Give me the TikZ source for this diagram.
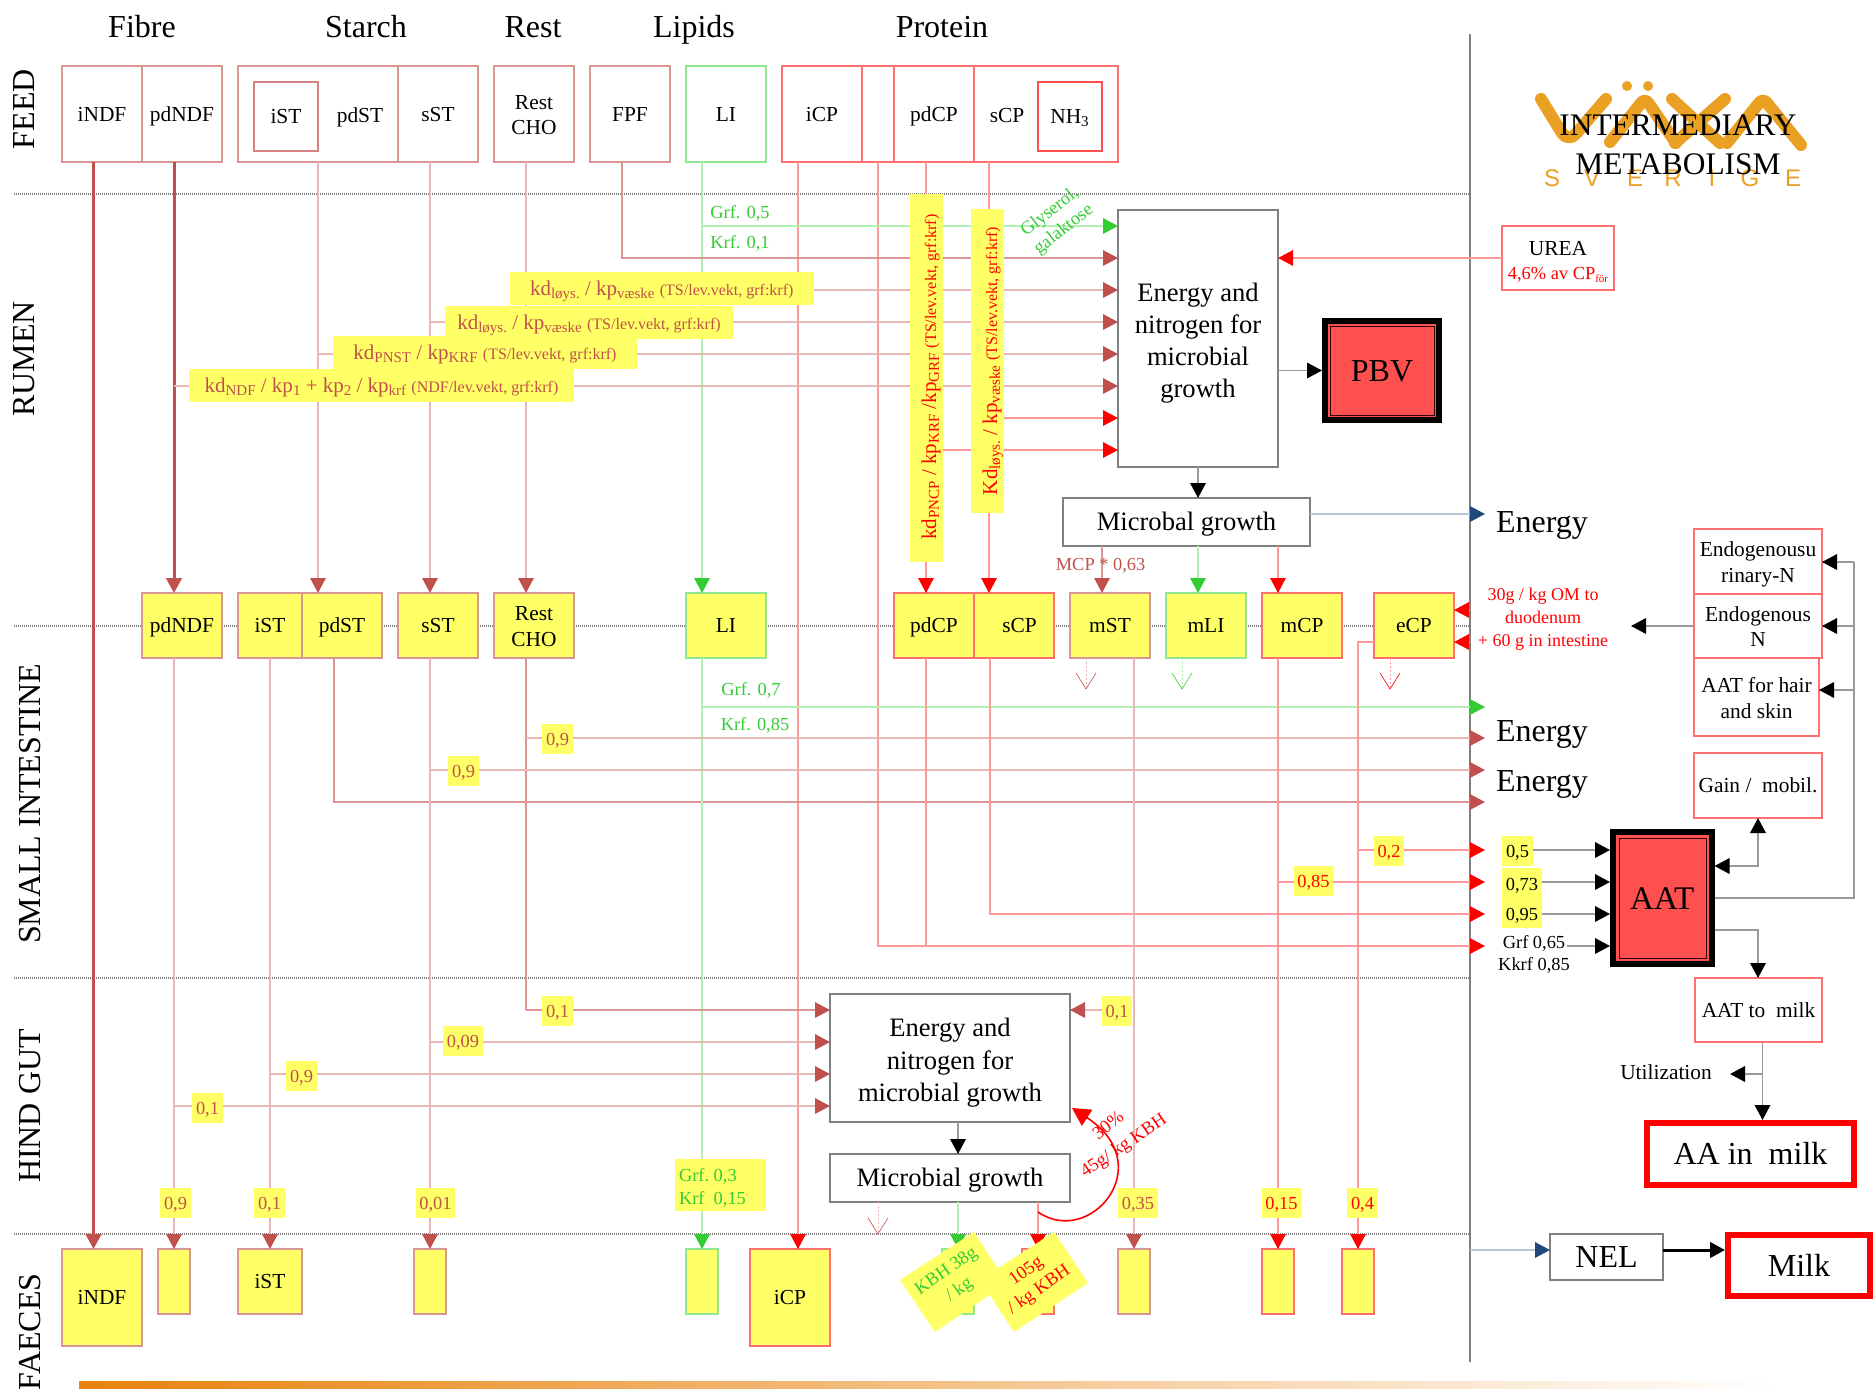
\documentclass[tikz,border=0pt]{standalone}
\usepackage{fontspec}
\setmainfont{Liberation Serif}
\newfontfamily\logofont{Liberation Sans}
\usetikzlibrary{arrows.meta,calc,shadings}
\definecolor{dred}{HTML}{C0504D}
\definecolor{pink}{HTML}{E6B9B8}
\definecolor{dbrd}{HTML}{D99694}
\definecolor{rline}{HTML}{FF9999}
\definecolor{rbrd}{HTML}{FF7070}
\definecolor{gline}{HTML}{B3EFB3}
\definecolor{gc}{HTML}{33CC33}
\definecolor{gbrd}{HTML}{8FE68F}
\definecolor{yel}{HTML}{FFFF66}
\definecolor{bl}{HTML}{1F497D}
\definecolor{bline}{HTML}{B8C7DB}
\definecolor{redf}{HTML}{FF5050}
\definecolor{org}{HTML}{E9A023}
\definecolor{barl}{HTML}{E8820C}
\definecolor{barm}{HTML}{F9B76C}
\newcommand\bx[7]{%
  \pgfmathsetmacro\bxw{(#4-#2)*0.5}\pgfmathsetmacro\bxh{(#5-#3)*0.5}%
  \pgfmathsetmacro\bxx{(#2+#4)/2}\pgfmathsetmacro\bxy{(#3+#5)/2}%
  \node[minimum width=\bxw pt,minimum height=\bxh pt,inner sep=0pt,outer sep=0pt,#6] (#1) at (\bxx,\bxy) {#7};}
\newcommand\sbt[1]{\raisebox{-0.3ex}{\fontsize{7.5}{9}\selectfont #1}}
\newcommand\tsn[1]{{\fontsize{8}{9}\selectfont #1}}
\newcommand\tp[1]{\rule{0pt}{#1pt}}
\tikzset{
 cap/.style={text height=#1,text depth=0pt},
 ml/.style={text height=,text depth=},
 f32/.style={font=\fontsize{16}{19}\selectfont,cap=10.6pt},
 f26/.style={font=\fontsize{13.3}{16.1}\selectfont,align=center,cap=8.8pt},
 f21/.style={font=\fontsize{10.7}{12.7}\selectfont,align=center,cap=7.1pt},
 f18/.style={font=\fontsize{9.2}{11.2}\selectfont,align=center,cap=6.1pt},
 lab/.style={inner sep=0pt,outer sep=0pt,text=black},
 fdr/.style={draw=dbrd,line width=1pt,fill=white,f21},
 frd/.style={draw=rbrd,line width=1pt,fill=white,f21},
 fgr/.style={draw=gbrd,line width=1pt,fill=white,f21},
 ydr/.style={draw=dbrd,line width=1pt,fill=yel,f21},
 yrd/.style={draw=rbrd,line width=1pt,fill=yel,f21},
 ygr/.style={draw=gbrd,line width=1pt,fill=yel,f21},
 gbox/.style={draw=gray,line width=1pt,fill=white,f26},
 blkbox/.style={draw=black,line width=3pt,fill=redf},
 rbig/.style={draw=red,line width=3pt,fill=white,f32},
 ylab/.style={fill=yel,f18,text=dred},
 ylabr/.style={fill=yel,f18,text=red},
 sep/.style={draw=gray,line width=1pt,dash pattern=on .5pt off .5pt},
 ar/.style={-{Triangle[length=7.5pt,width=7.75pt,color=#1]}},
 lp/.style={draw=pink,line width=.8pt},
 ld/.style={draw=dred,line width=1.5pt},
 lm/.style={draw=dbrd,line width=.7pt},
 lr/.style={draw=rline,line width=.75pt},
 lg/.style={draw=gline,line width=.8pt},
 lk/.style={draw=gray!80,line width=.9pt},
 lb/.style={draw=bline,line width=.8pt},
 vee/.style={line width=.3pt},
}
\begin{document}
\begin{tikzpicture}[x=0.5pt,y=-0.5pt]
\useasboundingbox (0,0) rectangle (1874,1397);
% separators
\coordinate (Tip) at (1485,0);
\coordinate (Vl) at (1470,0);
\draw[sep] (14,194) -- (1470,194);
\draw[sep] (14,626) -- (1470,626);
\draw[sep] (14,978) -- (1470,978);
\draw[sep] (14,1234) -- (1470,1234);
\draw[draw=gray,line width=1pt] (1470,34) -- (1470,1362);
% bottom bar
\shade[left color=barl,middle color=barm,right color=white] (79,1381) rectangle (1778,1388);
% logo
\begin{scope}[draw=org,line width=6pt,line cap=round,line join=round]
 \draw[rounded corners=6pt] (1541,99) -- (1568,143) -- (1606,99);
 \draw[rounded corners=3pt] (1610,142) -- (1645,98) -- (1676,143);
 \draw (1672,99) -- (1720,143);
 \draw (1725,99) -- (1675,143);
 \draw[rounded corners=3pt] (1727,143) -- (1763,98) -- (1801,145);
\end{scope}
\fill[org] (1627,86) circle (5) (1648,86) circle (5);
\foreach \nn/\lx/\lt in {a/1552/S,b/1592/V,c/1635/E,d/1673/R,e/1712/I,f/1750/G,g/1793/E}{
 \node[lab,text=org,font=\logofont\fontsize{12}{15}\selectfont] (sv\nn) at (\lx,178) {\lt};}
\node[lab,font=\fontsize{15.7}{19}\selectfont] (imA) at (1678,125) {INTERMEDIARY};
\node[lab,font=\fontsize{15.7}{19}\selectfont] (imB) at (1678,164) {METABOLISM};
% headers
\node[lab,f32] (hFibre) at (142,27) {Fibre};
\node[lab,f32] (hStarch) at (366,27) {Starch};
\node[lab,f32] (hRest) at (533,27) {Rest};
\node[lab,f32] (hLip) at (694,27) {Lipids};
\node[lab,f32] (hProt) at (942,27) {Protein};
\node[lab,f32,rotate=90] (rFeed) at (24,109) {FEED};
\node[lab,f32,rotate=90] (rRum) at (24,359) {RUMEN};
\node[lab,f32,rotate=90] (rSI) at (30,804) {SMALL INTESTINE};
\node[lab,f32,rotate=90] (rHG) at (30,1106) {HIND GUT};
\node[lab,f32,rotate=90] (rFa) at (30,1332) {FAECES};
% feed boxes
\bx{FiNDF}{62}{66}{142}{162}{fdr}{iNDF}
\bx{FpdNDF}{142}{66}{222}{162}{fdr}{pdNDF}
\bx{Fstarch}{238}{66}{398}{162}{fdr}{}
\bx{FsST}{398}{66}{478}{162}{fdr}{sST}
\bx{FiST}{254}{82}{318}{151}{draw=dred!70,line width=.8pt,fill=white,f21}{iST}
\node[lab,f21] (FpdSTt) at (360,115) {pdST};
\bx{Frest}{494}{66}{574}{162}{fdr,ml}{\tp{8.2}Rest\\CHO}
\bx{FFPF}{590}{66}{670}{162}{fdr}{FPF}
\bx{FLI}{686}{66}{766}{162}{fgr}{LI}
\bx{FiCP}{782}{66}{862}{162}{frd}{iCP}
\bx{Fx}{862}{66}{894}{162}{frd}{}
\bx{FpdCP}{894}{66}{974}{162}{frd}{pdCP}
\bx{FsCP}{974}{66}{1118}{162}{frd}{}
\node[lab,f21] (FsCPt) at (1007,115) {sCP};
\bx{FNH}{1038}{82}{1102}{151}{draw=rbrd!70!red,line width=.8pt,fill=white,f21}{NH\textsubscript{3}}
% rumen boxes
\bx{E}{1118}{210}{1278}{467}{gbox,ml}{\tp{14}Energy and\\nitrogen for\\microbial\\growth}
\bx{PBV}{1325}{321}{1439}{420}{blkbox,font=\fontsize{16}{20}\selectfont,cap=10.6pt}{PBV}
\draw[line width=.5pt,color=black!80!red] (1330,326) rectangle (1434,415);
\bx{MG}{1063}{498}{1310}{546}{gbox}{Microbal growth}
\bx{UREA}{1502}{226}{1614}{290}{frd}{}
\node[lab,f21] (ureaA) at (1558,248) {UREA};
\node[lab,f18,text=red] (ureaB) at (1558,273) {4,6\% av CP\raisebox{-.4ex}{\fontsize{5.5}{6}\selectfont för}};
% small intestine boxes
\bx{SpdNDF}{142}{593}{222}{658}{ydr}{pdNDF}
\bx{SiST}{238}{593}{302}{658}{ydr}{iST}
\bx{SpdST}{302}{593}{382}{658}{ydr}{pdST}
\bx{SsST}{398}{593}{478}{658}{ydr}{sST}
\bx{Srest}{494}{593}{574}{658}{ydr,ml}{\tp{8.2}Rest\\CHO}
\bx{SLI}{686}{593}{766}{658}{ygr}{LI}
\bx{SpdCP}{894}{593}{974}{658}{yrd}{pdCP}
\bx{SsCP}{974}{593}{1054}{658}{yrd}{\hspace{5.5pt}sCP}
\bx{SmST}{1070}{593}{1150}{658}{ydr}{mST}
\bx{SmLI}{1166}{593}{1246}{658}{ygr}{mLI}
\bx{SmCP}{1262}{593}{1342}{658}{yrd}{mCP}
\bx{SeCP}{1374}{593}{1454}{658}{yrd}{eCP}
% right column
\bx{Ren}{1694}{529}{1822}{594}{frd,ml}{\tp{10.4}Endogenousu\\rinary-N}
\bx{Rn}{1694}{594}{1822}{658}{frd,ml}{\tp{8.2}Endogenous\\N}
\bx{Rh}{1694}{658}{1819}{736}{frd,ml}{\tp{8.6}AAT for hair\\and skin}
\bx{Rg}{1694}{753}{1822}{818}{frd}{Gain /\ \ mobil.}
\bx{AAT}{1613}{832}{1711.5}{964}{blkbox,font=\fontsize{16.5}{21}\selectfont,cap=11pt}{AAT}
\draw[line width=.5pt,color=black!80!red] (1619,838) rectangle (1706,958);
\bx{Rm}{1695}{978}{1822}{1042}{frd}{AAT to\ \ milk}
\bx{AAm}{1647}{1123}{1854}{1185}{rbig}{AA in\ \ milk}
\bx{NEL}{1550}{1234}{1663}{1280}{gbox,font=\fontsize{16}{19}\selectfont,cap=10.6pt}{NEL}
\bx{Milk}{1728}{1235}{1870}{1296}{rbig}{Milk}
% hind gut boxes
\bx{H}{830}{994}{1070}{1122}{gbox,ml}{\tp{14}Energy and\\nitrogen for\\microbial growth}
\bx{HM}{830}{1154}{1070}{1202}{gbox}{Microbial growth}
% faeces boxes
\bx{PiNDF}{62}{1249}{142}{1346}{ydr}{iNDF}
\bx{Ppd}{158}{1249}{190}{1314}{ydr}{}
\bx{PiST}{238}{1249}{302}{1314}{ydr}{iST}
\bx{PsST}{414}{1249}{446}{1314}{ydr}{}
\bx{PLI}{686}{1249}{718}{1314}{ygr}{}
\bx{PiCP}{750}{1249}{830}{1346}{yrd}{iCP}
\bx{Pg}{942}{1249}{974}{1314}{ygr}{}
\bx{Pr}{1022}{1249}{1054}{1314}{yrd}{}
\bx{Pm}{1118}{1249}{1150}{1314}{ydr}{}
\bx{Pc}{1262}{1249}{1294}{1314}{yrd}{}
\bx{Pe}{1342}{1249}{1374}{1314}{yrd}{}
% feed -> small intestine
\draw[ld,ar=dred] (93.5,0 |- FiNDF.south) -- (93.5,0 |- PiNDF.north);
\draw[ld,ar=dred] (174,0 |- FpdNDF.south) -- (174,0 |- SpdNDF.north);
\draw[lp,ar=dred] (318,0 |- Fstarch.south) -- (318,0 |- SpdST.north);
\draw[lp,ar=dred] (430,0 |- FsST.south) -- (430,0 |- SsST.north);
\draw[lp,ar=dred] (526,0 |- Frest.south) -- (526,0 |- Srest.north);
\draw[lg,ar=gc] (702,0 |- FLI.south) -- (702,0 |- SLI.north);
\draw[lr,ar=red] (926,0 |- FpdCP.south) -- (926,0 |- SpdCP.north);
\draw[lr,ar=red] (989,0 |- FsCP.south) -- (989,0 |- SsCP.north);
\draw[lr,ar=red] (798,0 |- FiCP.south) -- (798,0 |- PiCP.north);
\draw[lr,ar=red] (878,0 |- Fx.south) |- (Tip |- 0,946);
% into rumen energy box
\draw[lg,ar=gc] (702,226) -- (E.west |- 0,226);
\draw[lm,ar=dred] (622,0 |- FFPF.south) |- (E.west |- 0,258);
\draw[lp,ar=dred] (526,290) -- (E.west |- 0,290);
\draw[lp,ar=dred] (430,322) -- (E.west |- 0,322);
\draw[lp,ar=dred] (318,354) -- (E.west |- 0,354);
\draw[lp,ar=dred] (174,386) -- (E.west |- 0,386);
\draw[lr,ar=red] (989,418) -- (E.west |- 0,418);
\draw[lr,ar=red] (926,450) -- (E.west |- 0,450);
\draw[lr,ar=red] (UREA.west |- 0,258) -- (E.east |- 0,258);
\draw[lk,-{Triangle[length=7.5pt,width=7.75pt,color=black]}] (E.east |- PBV.west) -- (1322,0 |- PBV.west);
\draw[lk,-{Triangle[length=7.5pt,width=7.75pt,color=black]}] (1198,0 |- E.south) -- (1198,0 |- MG.north);
\draw[lb,ar=bl] (MG.east |- 0,514) -- (Tip |- 0,514);
\draw[lm,ar=dred] (1102,0 |- MG.south) -- (1102,0 |- SmST.north);
\draw[lg,ar=gc] (1198,0 |- MG.south) -- (1198,0 |- SmLI.north);
\draw[lr,ar=red] (1278,0 |- MG.south) -- (1278,0 |- SmCP.north);
% open arrows
\foreach \vx/\vc in {1086/dred,1182/gc,1390/red}{
 \draw[vee,\vc!40,dash pattern=on 1pt off 1pt] (\vx,658) -- (\vx,688);
 \draw[vee,\vc] (\vx-10,673) -- (\vx,689) -- (\vx+10,673);}
\draw[vee,dred!40,dash pattern=on 1pt off 1pt] (878,0 |- HM.south) -- (878,1233);
\draw[vee,dred] (868,1218) -- (878,1234) -- (888,1218);
% small intestine outwards
\draw[lp,ar=dred] (174,0 |- SpdNDF.south) -- (174,0 |- Ppd.north);
\draw[lp,ar=dred] (270,0 |- SiST.south) -- (270,0 |- PiST.north);
\draw[lm,ar=dred] (334,0 |- SpdST.south) |- (Tip |- 0,802);
\draw[lp,ar=dred] (430,0 |- SsST.south) -- (430,0 |- PsST.north);
\draw[lm] (526,0 |- Srest.south) -- (526,1010);
\draw[lg,ar=gc] (702,0 |- SLI.south) -- (702,0 |- PLI.north);
\draw[lg,ar=gc] (702,707) -- (Tip |- 0,707);
\draw[lp,ar=dred] (526,738) -- (Tip |- 0,738);
\draw[lp,ar=dred] (430,770) -- (Tip |- 0,770);
\draw[lr] (926,0 |- SpdCP.south) -- (926,946);
\draw[lr,ar=red] (990,0 |- SsCP.south) |- (Tip |- 0,914);
\draw[lp,ar=dred] (1134,0 |- SmST.south) -- (1134,0 |- Pm.north);
\draw[lr,ar=red] (1278,0 |- SmCP.south) -- (1278,0 |- Pc.north);
\draw[lr,ar=red] (SeCP.west |- 0,642) -| (1358,0 |- Pe.north);
\draw[lr,ar=red] (1358,850) -- (Tip |- 0,850);
\draw[lr,ar=red] (1278,882) -- (Tip |- 0,882);
\draw[lr,-{Triangle[length=7.5pt,width=7.75pt,color=red]}] (Vl |- 0,610) -- (SeCP.east |- 0,610);
\draw[lr,-{Triangle[length=7.5pt,width=7.75pt,color=red]}] (Vl |- 0,642) -- (SeCP.east |- 0,642);
% hind gut
\draw[lm,ar=dred] (526,1010) -- (H.west |- 0,1010);
\draw[lp,ar=dred] (430,1042) -- (H.west |- 0,1042);
\draw[lp,ar=dred] (270,1074) -- (H.west |- 0,1074);
\draw[lp,ar=dred] (174,1106) -- (H.west |- 0,1106);
\draw[lp,ar=dred] (1102,1010) -- (H.east |- 0,1010);
\draw[lk,-{Triangle[length=7.5pt,width=7.75pt,color=black]}] (958,0 |- H.south) -- (958,0 |- HM.north);
\draw[lg,ar=gc] (958,0 |- HM.south) -- (958,0 |- Pg.north);
\draw[lr,ar=red] (1038,0 |- HM.south) -- (1038,0 |- Pr.north);
\draw[red,line width=.8pt,-{Triangle[length=9pt,width=9.5pt,color=red]}] (1038,1212) .. controls (1090,1248) and (1160,1165) .. (1072,1108);
% right side
\coordinate (ArIn) at (1610,0);
\draw[lk,-{Triangle[length=7.5pt,width=7.75pt,color=black]}] (1533,850) -- (ArIn |- 0,850);
\draw[lk,-{Triangle[length=7.5pt,width=7.75pt,color=black]}] (1542,882) -- (ArIn |- 0,882);
\draw[lk,-{Triangle[length=7.5pt,width=7.75pt,color=black]}] (1542,914) -- (ArIn |- 0,914);
\draw[lk,-{Triangle[length=7.5pt,width=7.75pt,color=black]}] (1567,946) -- (ArIn |- 0,946);
\draw[lk,{Triangle[length=7.5pt,width=7.75pt,color=black]}-{Triangle[length=7.5pt,width=7.75pt,color=black]}] (1758,0 |- Rg.south) |- (1714.5,866);
\draw[lk] (1714.5,898) -| (1854,562);
\draw[lk,-{Triangle[length=7.5pt,width=7.75pt,color=black]}] (1854,562) -- (Ren.east |- 0,562);
\draw[lk,-{Triangle[length=7.5pt,width=7.75pt,color=black]}] (1854,626) -- (Rn.east |- 0,626);
\draw[lk,-{Triangle[length=7.5pt,width=7.75pt,color=black]}] (1854,690) -- (Rh.east |- 0,690);
\draw[lk,-{Triangle[length=7.5pt,width=7.75pt,color=black]}] (Rn.west |- 0,626) -- (1631,626);
\draw[lk,-{Triangle[length=7.5pt,width=7.75pt,color=black]}] (1714.5,930) -| (1758,0 |- Rm.north);
\draw[lk,-{Triangle[length=7.5pt,width=7.75pt,color=black]}] (1762.5,0 |- Rm.south) -- (1762.5,1120);
\draw[lk,-{Triangle[length=7.5pt,width=7.75pt,color=black]}] (1762.5,1074) -- (1730,1074);
\draw[lb,-{Triangle[length=7.5pt,width=7.75pt,color=bl]}] (Vl |- 0,1250) -- (NEL.west |- 0,1250);
\draw[black,line width=1.5pt,-{Triangle[length=7.5pt,width=7.75pt,color=black]}] (NEL.east |- 0,1250) -- (1725,1250);
% yellow labels on rumen lines
\bx{kA}{510}{272}{813.5}{305}{ylab,font=\fontsize{10.5}{12}\selectfont,cap=7pt}{kd\sbt{løys.} / kp\sbt{væske} \tsn{(TS/lev.vekt, grf:krf)}}
\bx{kB}{445}{306}{733}{339}{ylab,font=\fontsize{10.5}{12}\selectfont,cap=7pt}{kd\sbt{løys.} / kp\sbt{væske} \tsn{(TS/lev.vekt, grf:krf)}}
\bx{kC}{333}{336}{637}{369}{ylab,font=\fontsize{10.5}{12}\selectfont,cap=7pt}{kd\sbt{PNST} / kp\sbt{KRF} \tsn{(TS/lev.vekt, grf:krf)}}
\bx{kD}{189}{369}{574}{402}{ylab,font=\fontsize{10.5}{12}\selectfont,cap=7pt}{kd\sbt{NDF} / kp\sbt{1} + kp\sbt{2} / kp\sbt{krf} \tsn{(NDF/lev.vekt, grf:krf)}}
\bx{kE}{910}{194}{943}{562}{fill=yel}{}
\bx{kF}{971}{209}{1004}{513}{fill=yel}{}
\node[lab,rotate=90,text=red,font=\fontsize{10.5}{12}\selectfont,cap=7pt] (kEt) at (929,377) {kd\sbt{PNCP} / kp\sbt{KRF} /kp\sbt{GRF} \tsn{(TS/lev.vekt, grf:krf)}};
\node[lab,rotate=90,text=red,font=\fontsize{10.5}{12}\selectfont,cap=7pt] (kFt) at (990,361) {Kd\sbt{løys.} / kp\sbt{væske} \tsn{(TS/lev.vekt, grf:krf)}};
% green and other texts
\node[lab,f18,text=gc] (t1) at (740,212) {Grf. 0,5};
\node[lab,f18,text=gc] (t2) at (740,242) {Krf. 0,1};
\node[lab,f18,text=gc] (t3) at (751,689) {Grf. 0,7};
\node[lab,f18,text=gc] (t4) at (755,724) {Krf. 0,85};
\node[lab,f18,ml,yshift=-1pt,text=gc,rotate=38] (t5) at (1057,219) {Glyserol,\\galaktose};
\node[lab,f18,text=dred] (t6) at (1100.6,564) {MCP * 0,63};
\node[lab,f32] (en1) at (1542,522) {Energy};
\node[lab,f32] (en2) at (1542,731) {Energy};
\node[lab,f32] (en3) at (1542,781) {Energy};
\node[lab,text=red,font=\fontsize{9}{11.4}\selectfont,align=center] (t7) at (1543,619) {30g / kg OM to\\duodenum\\+ 60 g in intestine};
\bx{y05}{1502}{836}{1533}{866}{ylab,text=black}{0,5}
\bx{y073}{1502}{868}{1542}{928}{fill=yel}{}
\node[lab,f18] (t8) at (1522,884) {0,73};
\node[lab,f18] (t9) at (1522,914) {0,95};
\node[lab,f18] (t10) at (1534,942) {Grf 0,65};
\node[lab,f18] (t11) at (1534,964) {Kkrf 0,85};
\node[lab,f21] (t12) at (1666,1072) {Utilization};
% number labels
\bx{n1}{542}{724}{573}{754}{ylab}{0,9}
\bx{n2}{448}{756}{479}{786}{ylab}{0,9}
\bx{n3}{542}{996}{573}{1026}{ylab}{0,1}
\bx{n4}{443}{1026}{483}{1056}{ylab}{0,09}
\bx{n5}{286}{1061}{317}{1091}{ylab}{0,9}
\bx{n6}{192}{1093}{223}{1123}{ylab}{0,1}
\bx{n7}{160}{1188}{191}{1218}{ylab}{0,9}
\bx{n8}{254}{1188}{285}{1218}{ylab}{0,1}
\bx{n9}{416}{1188}{455}{1218}{ylab}{0,01}
\bx{n10}{675}{1159}{766}{1211}{fill=yel}{}
\node[lab,f18,ml,yshift=-1pt,text=gc,align=left,anchor=west] (n10t) at (679,1186) {Grf.\ 0,3\\Krf\ \ 0,15};
\bx{n11}{1102}{996}{1132}{1026}{ylab}{0,1}
\bx{n12}{1118}{1188}{1158}{1218}{ylab}{0,35}
\bx{n13}{1262}{1188}{1301}{1218}{ylabr}{0,15}
\bx{n14}{1347}{1188}{1378}{1218}{ylabr}{0,4}
\bx{n15}{1374}{836}{1404}{866}{ylabr}{0,2}
\bx{n16}{1294}{866}{1333}{896}{ylabr}{0,85}
% curved labels
\node[lab,f18,text=red,rotate=38] (c1) at (1108,1125) {30\%};
\node[lab,f18,text=red,rotate=34] (c2) at (1123,1145) {45g/ kg KBH};
% tilted yellow notes
\fill[yel] (974,1232) -- (900,1280) -- (935,1332) -- (1007,1283) -- cycle;
\fill[yel] (1054,1232) -- (980,1280) -- (1014,1332) -- (1088,1283) -- cycle;
\node[lab,f18,ml,yshift=-1pt,text=gc,rotate=35] (c3) at (953,1279) {KBH 38g\\/ kg};
\node[lab,f18,ml,yshift=-1pt,text=red,rotate=35] (c4) at (1033,1279) {105g\\/ kg KBH};
\end{tikzpicture}
\end{document}
